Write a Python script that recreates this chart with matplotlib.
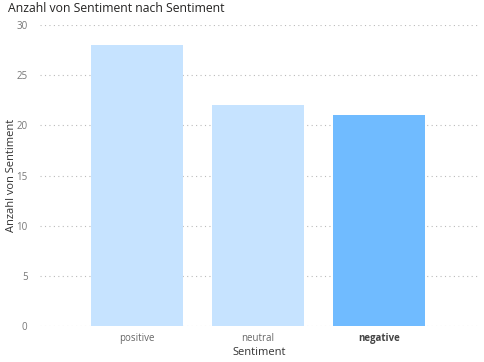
import matplotlib
matplotlib.use("Agg")
import matplotlib.pyplot as plt

categories = ["positive", "neutral", "negative"]
values = [28, 22, 21]
yticks = [0, 5, 10, 15, 20, 25, 30]

plt.rcParams['font.family'] = ['Open Sans', 'DejaVu Sans']

fig = plt.figure(figsize=(4.85, 3.62), dpi=100)
W, H = 485, 362
ax = fig.add_axes([40 / W, 1 - 326 / H, (478 - 40) / W, (326 - 25) / H])

colors = ["#C6E3FF", "#C6E3FF", "#70BBFF"]
x = list(range(len(categories)))
ax.bar(x, values, width=0.76, color=colors, zorder=2)

ax.set_ylim(0, 30)
ax.set_xlim(-0.80, 2.82)
ax.set_yticks(yticks)
ax.set_yticklabels([str(t) for t in yticks], fontsize=7, color="#777777")
ax.set_xticks(x)
ax.set_xticklabels(categories, fontsize=7, color="#666666")
for lbl in ax.get_xticklabels():
    if lbl.get_text() == "negative":
        lbl.set_fontweight("bold")
        lbl.set_color("#444444")

ax.tick_params(axis="both", length=0)
ax.tick_params(axis="y", pad=9)
ax.tick_params(axis="x", pad=5)
for s in ax.spines.values():
    s.set_visible(False)
ax.grid(axis="y", linestyle=(0, (1, 3)), color="#BBBBBB", linewidth=0.8, zorder=0)

ax.set_xlabel("Sentiment", fontsize=8, color="#333333", labelpad=2)
ax.set_ylabel("Anzahl von Sentiment", fontsize=8, color="#333333")
ax.yaxis.set_label_coords((17 - 40) / 438, 0.5)

fig.text(8 / W, 1 - 9 / H, "Anzahl von Sentiment nach Sentiment", fontsize=8.8,
         color="#252423", va="center", ha="left")

fig.savefig("out.png", dpi=100)
